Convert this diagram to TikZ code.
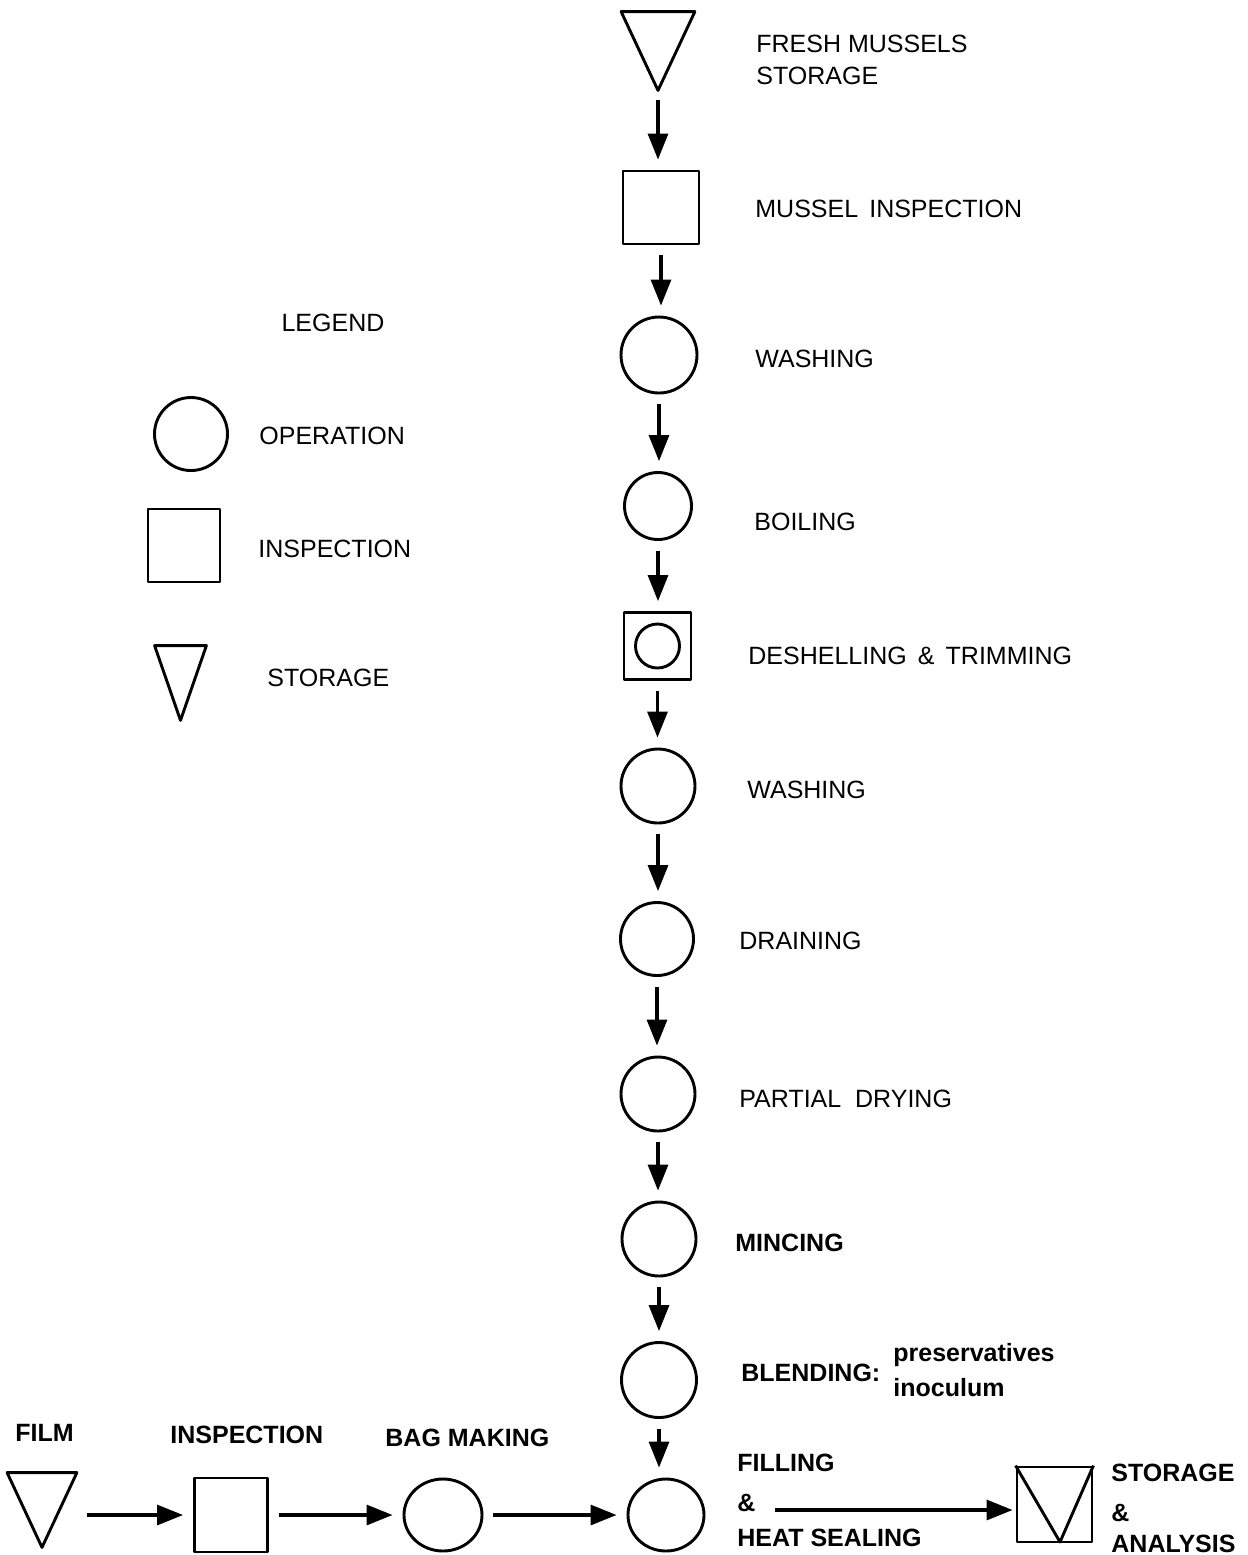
\documentclass[tikz,border=0pt]{standalone}
\usepackage{fontspec}
\setmainfont{Liberation Sans}
\usetikzlibrary{arrows.meta,shapes.geometric}
\begin{document}
\begin{tikzpicture}[x=0.5pt,y=-0.5pt,
  shp/.style={draw,line width=1.45pt,inner sep=0pt,line join=round},
  opn/.style={shp,ellipse,minimum width=#1,minimum height=#1},
  opn/.default=37pt,
  insp/.style={shp,rectangle,minimum width=#1,minimum height=#1},
  insp/.default=37pt,
  stor/.style={rectangle,inner sep=0pt},
  flow/.style={-{Triangle[length=13pt,width=10pt]},line width=1.6pt,
    shorten <=5pt,shorten >=5pt},
  lbl/.style={anchor=base west,inner sep=0pt,
    font=\fontsize{12.5pt}{15pt}\selectfont},
  lblb/.style={lbl,font=\fontsize{12.5pt}{15pt}\selectfont\bfseries}]

% page frame
\useasboundingbox (0,0) rectangle (1248,1555);

% ---------- main process column ----------
\node[stor,minimum width=36.5pt,minimum height=39pt] (fresh) at (658,51) {};
\draw[shp] (fresh.north west) -- (fresh.north east) -- (fresh.south) -- cycle;
\node[insp,minimum width=38pt,minimum height=36.5pt] (minsp) at (661,207.5) {};
\node[opn=38pt] (wash1) at (659,355) {};
\node[opn=33.5pt] (boil) at (658,506) {};
\node[insp=33.5pt] (deshell) at (657.5,646) {};
\node[shp,circle,minimum size=22pt] (deshellop) at (deshell.center) {};
\node[opn=37pt] (wash2) at (658,786) {};
\node[opn=36.5pt] (drain) at (657,939) {};
\node[opn=37pt] (dry) at (658,1094) {};
\node[opn=37pt] (mince) at (659,1239) {};
\node[opn=37.5pt] (blend) at (659,1380) {};
\node[shp,ellipse,minimum width=38pt,minimum height=36pt] (fill) at (666,1515) {};

% storage & analysis box
\node[insp=37.5pt] (sa) at (1054.5,1504.5) {};
\draw[shp] (sa.north west) -- (1060,1542) -- (sa.north east);

% ---------- film line ----------
\node[stor,minimum width=34.5pt,minimum height=37pt] (film) at (42,1510) {};
\draw[shp] (film.north west) -- (film.north east) -- (film.south) -- cycle;
\node[shp,rectangle,minimum width=36.5pt,minimum height=37pt] (finsp) at (231,1515) {};
\node[shp,ellipse,minimum width=39pt,minimum height=36pt] (bag) at (443,1515) {};

% ---------- legend ----------
\node[opn=36.5pt] (lgop) at (191,434) {};
\node[shp,rectangle,minimum width=36pt,minimum height=36.5pt] (lgin) at (184,545.5) {};
\node[stor,minimum width=25.5pt,minimum height=37pt] (lgst) at (180.5,683) {};
\draw[shp] (lgst.north west) -- (lgst.north east) -- (lgst.south) -- cycle;

% ---------- connectors ----------
\foreach \a/\b in {fresh/minsp,minsp/wash1,wash1/boil,boil/deshell,deshell/wash2,
                   wash2/drain,drain/dry,dry/mince,mince/blend}
  \draw[flow] (\a.south) -- (\a.south |- \b.north);
\draw[flow] (blend.south) -- (blend.south |- fill.north);
\draw[flow] (film.east |- finsp.west) -- (finsp.west);
\draw[flow] (finsp.east) -- (bag.west);
\draw[flow] (bag.east) -- (fill.west);
\coordinate (hsout) at (775,1510);
\draw[flow,shorten <=0pt,shorten >=1.5pt] (hsout) -- (hsout -| sa.west);

% ---------- labels ----------
\node[lbl] (tfresh) at (756,52) {FRESH MUSSELS};
\node[lbl] (tfresh2) at (756,84) {STORAGE};
\node[lbl] (tminsp) at (755,217) {MUSSEL\ \,INSPECTION};
\node[lbl] (twash1) at (755,367) {WASHING};
\node[lbl] (tboil) at (754,530) {BOILING};
\node[lbl] (tdesh) at (748,664) {DESHELLING\ \,\&\ \,TRIMMING};
\node[lbl] (twash2) at (747,798) {WASHING};
\node[lbl] (tdrain) at (739,949) {DRAINING};
\node[lbl] (tdry) at (739,1107) {PARTIAL\ \ DRYING};
\node[lblb] (tmince) at (735,1251) {MINCING};
\node[lblb] (tblend) at (741,1381) {BLENDING:};
\node[lblb] (tpres) at (893,1361) {preservatives};
\node[lblb] (tinoc) at (893,1396) {inoculum};
\node[lblb] (tfill1) at (737,1471) {FILLING};
\node[lblb] (tfill2) at (737,1511) {\&};
\node[lblb] (tfill3) at (737,1546) {HEAT SEALING};
\node[lblb] (tsa1) at (1111,1481) {STORAGE};
\node[lblb] (tsa2) at (1111,1521) {\&};
\node[lblb] (tsa3) at (1111,1552) {ANALYSIS};
\node[lblb] (tfilm) at (15,1441) {FILM};
\node[lblb] (tfinsp) at (170,1443) {INSPECTION};
\node[lblb] (tbag) at (385,1446) {BAG MAKING};

\node[lbl,anchor=base] (tlegend) at (333,331) {LEGEND};
\node[lbl] (tlgop) at (259,444) {OPERATION};
\node[lbl] (tlgin) at (258,557) {INSPECTION};
\node[lbl] (tlgst) at (267,686) {STORAGE};
\end{tikzpicture}
\end{document}
